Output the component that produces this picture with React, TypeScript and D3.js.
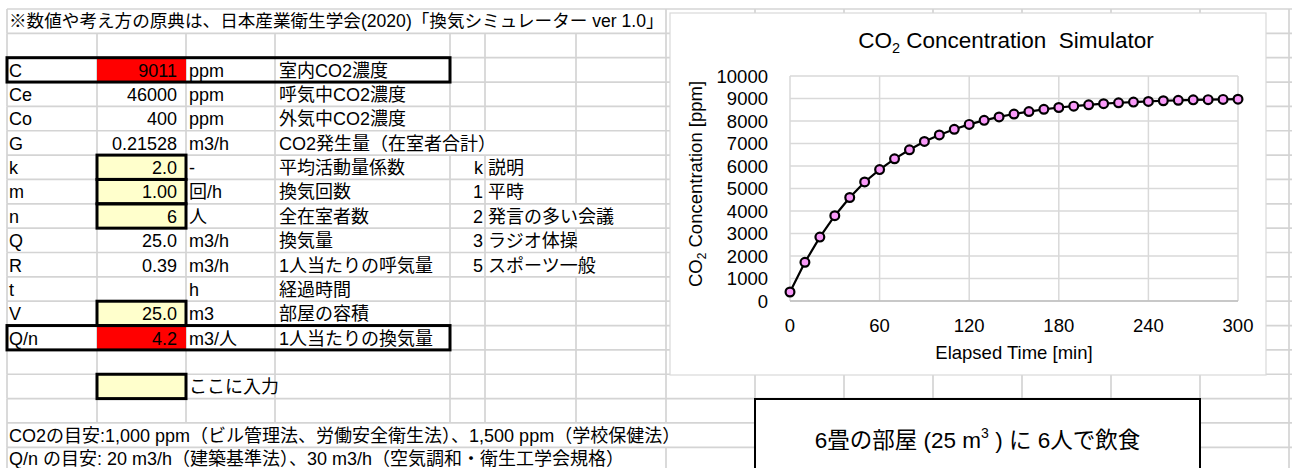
import React from 'react';
import * as d3 from 'd3';

// ---------- data ----------
const headerNote = '※数値や考え方の原典は、日本産業衛生学会(2020)「換気シミュレーター ver 1.0」';
const paramSymbols = ['C', 'Ce', 'Co', 'G', 'k', 'm', 'n', 'Q', 'R', 't', 'V', 'Q/n'];
const paramValues = ['9011', '46000', '400', '0.21528', '2.0', '1.00', '6', '25.0', '0.39', '', '25.0', '4.2'];
const paramUnits = ['ppm', 'ppm', 'ppm', 'm3/h', '-', '回/h', '人', 'm3/h', 'm3/h', 'h', 'm3', 'm3/人'];
const paramDescs = [
  '室内CO2濃度', '呼気中CO2濃度', '外気中CO2濃度', 'CO2発生量（在室者合計）', '平均活動量係数', '換気回数',
  '全在室者数', '換気量', '1人当たりの呼気量', '経過時間', '部屋の容積', '1人当たりの換気量',
];
const kCodes = ['k', '1', '2', '3', '5'];
const kDescs = ['説明', '平時', '発言の多い会議', 'ラジオ体操', 'スポーツ一般'];
const inputHint = 'ここに入力';
const noteCO2 = 'CO2の目安:1,000 ppm（ビル管理法、労働安全衛生法）、1,500 ppm（学校保健法）';
const noteQn = 'Q/n の目安: 20 m3/h（建築基準法）、30 m3/h（空気調和・衛生工学会規格）';
const boxText = ['6畳の部屋 (25 m', '3', ' ) に 6人で飲食'];

const timeMin = [0, 10, 20, 30, 40, 50, 60, 70, 80, 90, 100, 110, 120, 130, 140, 150, 160, 170, 180, 190, 200,
  210, 220, 230, 240, 250, 260, 270, 280, 290, 300];
const co2Ppm = [400, 1720, 2840, 3790, 4600, 5290, 5840, 6320, 6720, 7090, 7380, 7630, 7850, 8030, 8180, 8310,
  8420, 8520, 8600, 8660, 8720, 8770, 8810, 8840, 8870, 8900, 8920, 8940, 8950, 8960, 8970];
const yTicks = [0, 1000, 2000, 3000, 4000, 5000, 6000, 7000, 8000, 9000, 10000];
const xTicks = [0, 60, 120, 180, 240, 300];

// ---------- layout ----------
const W = 1292;
const H = 468;
const FONT = "'Liberation Sans', Arial, 'Noto Sans CJK JP', sans-serif";
const ROW0 = 9;
const ROW_H = 24.35;
const COLS = [7, 97, 186, 275, 450, 485, 576, 666, 755, 844, 933, 1022, 1111, 1200, 1289];
const GRID = '#d4d4d4';
const rowTop = (i: number) => ROW0 + i * ROW_H;
const PARAM_ROW0 = 2;
const K_ROW0 = 6;
const hiddenV: Record<number, number[]> = {
  0: [97, 186, 275, 450, 485, 576],
  5: [450, 485],
  8: [576],
  10: [576],
  17: [97, 186, 275, 450, 485, 576, 666],
  18: [97, 186, 275, 450, 485, 576],
};
const outputIdx = [0, 11];
const inputIdx = [4, 5, 6, 10];

const chartBox = { x: 670, y: 13, w: 596, h: 362 };
const plot = { left: 790, right: 1238, top: 76, bottom: 301 };
const textBox = { x: 755, y: 399, w: 445, h: 90 };

export default function App() {
  const x = d3.scaleLinear().domain([0, 300]).range([plot.left, plot.right]);
  const y = d3.scaleLinear().domain([0, 10000]).range([plot.bottom, plot.top]);
  const pts = timeMin.map((t, i) => [t, co2Ppm[i]] as [number, number]);
  const line = d3.line<[number, number]>().x((d) => x(d[0])).y((d) => y(d[1]));

  const nRows = 20;
  const hLines = d3.range(nRows).map((i) => rowTop(i));
  const vSegs: { x: number; y1: number; y2: number }[] = [];
  for (let r = 0; r < nRows - 1; r++) {
    for (const cx of COLS) {
      if (hiddenV[r] && hiddenV[r].includes(cx)) continue;
      vSegs.push({ x: cx, y1: rowTop(r), y2: rowTop(r + 1) });
    }
  }
  const base = (r: number) => rowTop(r) + 19;
  const fs = 18;

  return (
    <svg width={W} height={H} style={{ position: 'absolute', left: 0, top: 0, background: '#fff' }}
      fontFamily={FONT}>
      <rect x={0} y={0} width={W} height={H} fill="#fff" />
      {/* gridlines */}
      {hLines.map((yy, i) => (
        <line key={'h' + i} x1={COLS[0]} x2={W} y1={yy} y2={yy} stroke={GRID} strokeWidth={1.7} />
      ))}
      {vSegs.map((s, i) => (
        <line key={'v' + i} x1={s.x} x2={s.x} y1={s.y1} y2={s.y2} stroke={GRID} strokeWidth={1.7} />
      ))}

      {/* fills */}
      {outputIdx.map((i) => (
        <rect key={'o' + i} x={COLS[1]} y={rowTop(PARAM_ROW0 + i)} width={COLS[2] - COLS[1]} height={ROW_H} fill="#ff0000" />
      ))}
      {inputIdx.map((i) => (
        <rect key={'in' + i} x={COLS[1]} y={rowTop(PARAM_ROW0 + i)} width={COLS[2] - COLS[1]} height={ROW_H} fill="#ffffcc" />
      ))}
      <rect x={COLS[1]} y={rowTop(15)} width={COLS[2] - COLS[1]} height={ROW_H} fill="#ffffcc" />

      {/* table text */}
      <g fontSize={fs} fill="#000" style={{ whiteSpace: 'pre' }}>
        <text x={9} y={rowTop(0) + 18} fontSize={17.6}>{headerNote}</text>
        {paramSymbols.map((s, i) => (
          <g key={'p' + i}>
            <text x={9} y={base(PARAM_ROW0 + i)}>{s}</text>
            <text x={177} y={base(PARAM_ROW0 + i)} textAnchor="end">{paramValues[i]}</text>
            <text x={189} y={base(PARAM_ROW0 + i)}>{paramUnits[i]}</text>
            <text x={279} y={base(PARAM_ROW0 + i)}>{paramDescs[i]}</text>
          </g>
        ))}
        {kCodes.map((k, i) => (
          <g key={'k' + i}>
            <text x={483} y={base(K_ROW0 + i)} textAnchor="end">{k}</text>
            <text x={488} y={base(K_ROW0 + i)}>{kDescs[i]}</text>
          </g>
        ))}
        <text x={189} y={base(15)}>{inputHint}</text>
        <text x={9} y={base(17)}>{noteCO2}</text>
        <text x={9} y={base(18) - 1}>{noteQn}</text>
      </g>

      {/* thick borders */}
      <g fill="none" stroke="#000" strokeWidth={3}>
        {outputIdx.map((i) => (
          <rect key={'ob' + i} x={COLS[0]} y={rowTop(PARAM_ROW0 + i)} width={COLS[4] - COLS[0]} height={ROW_H} />
        ))}
        {inputIdx.map((i) => (
          <rect key={'ib' + i} x={COLS[1]} y={rowTop(PARAM_ROW0 + i)} width={COLS[2] - COLS[1]} height={ROW_H} />
        ))}
        <rect x={COLS[1]} y={rowTop(15)} width={COLS[2] - COLS[1]} height={ROW_H} />
      </g>

      {/* chart */}
      <rect x={chartBox.x} y={chartBox.y} width={chartBox.w} height={chartBox.h} fill="#fff" stroke="#d9d9d9" strokeWidth={1.2} />
      <g stroke="#d9d9d9" strokeWidth={1.5}>
        {yTicks.map((t) => (
          <line key={'gy' + t} x1={plot.left} x2={plot.right} y1={y(t)} y2={y(t)} />
        ))}
        {xTicks.map((t) => (
          <line key={'gx' + t} x1={x(t)} x2={x(t)} y1={plot.top} y2={plot.bottom} />
        ))}
      </g>
      <line x1={plot.left} x2={plot.right} y1={y(0)} y2={y(0)} stroke="#bfbfbf" strokeWidth={1.5} />
      <g fontSize={18.5} fill="#000">
        {yTicks.map((t) => (
          <text key={'yt' + t} x={768} y={y(t)} dy="0.36em" textAnchor="end">{t}</text>
        ))}
        {xTicks.map((t) => (
          <text key={'xt' + t} x={x(t)} y={332} textAnchor="middle">{t}</text>
        ))}
      </g>
      <text x={1006} y={48} fontSize={22.5} textAnchor="middle" style={{ whiteSpace: 'pre' }}>
        <tspan>CO</tspan>
        <tspan fontSize={14.5} dy={5}>2</tspan>
        <tspan dy={-5}>{' Concentration  Simulator'}</tspan>
      </text>
      <text x={1014} y={359} fontSize={18.5} textAnchor="middle">Elapsed Time [min]</text>
      <text transform="translate(702,184) rotate(-90)" fontSize={18.5} textAnchor="middle">
        <tspan>CO</tspan>
        <tspan fontSize={12} dy={4}>2</tspan>
        <tspan dy={-4}>{' Concentration [ppm]'}</tspan>
      </text>
      <path d={line(pts) || ''} fill="none" stroke="#000" strokeWidth={2.2} />
      {pts.map((p, i) => (
        <circle key={'c' + i} cx={x(p[0])} cy={y(p[1])} r={4.4} fill="#f99af9" stroke="#000" strokeWidth={2.2} />
      ))}

      {/* text box */}
      <rect x={textBox.x} y={textBox.y} width={textBox.w} height={textBox.h} fill="#fff" stroke="#000" strokeWidth={2} />
      <text x={textBox.x + textBox.w / 2} y={448} fontSize={22.5} textAnchor="middle" style={{ whiteSpace: 'pre' }}>
        <tspan>{boxText[0]}</tspan>
        <tspan fontSize={14} dy={-10}>{boxText[1]}</tspan>
        <tspan dy={10}>{boxText[2]}</tspan>
      </text>
    </svg>
  );
}
